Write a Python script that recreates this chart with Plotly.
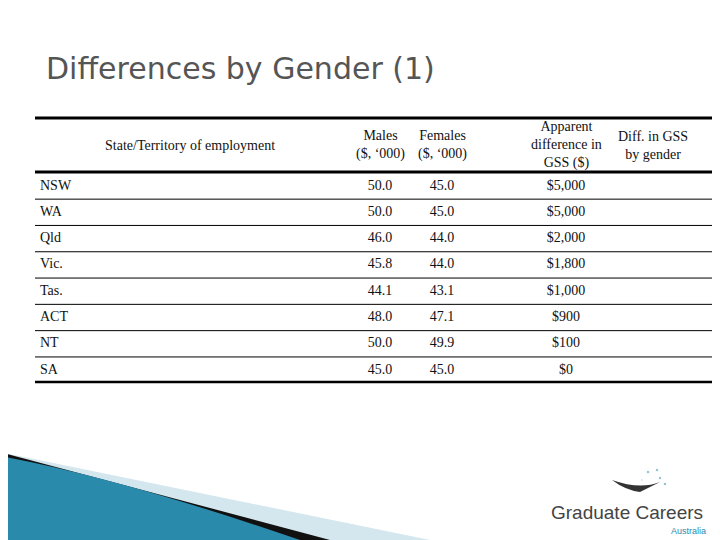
import plotly.graph_objects as go

states = ["NSW", "WA", "Qld", "Vic.", "Tas.", "ACT", "NT", "SA"]
males = [50.0, 50.0, 46.0, 45.8, 44.1, 48.0, 50.0, 45.0]
females = [45.0, 45.0, 44.0, 44.0, 43.1, 47.1, 49.9, 45.0]
diffs = ["$5,000", "$5,000", "$2,000", "$1,800", "$1,000", "$900", "$100", "$0"]
headers = ["State/Territory of employment", "Males<br>($, ‘000)", "Females<br>($, ‘000)",
           "Apparent<br>difference in<br>GSS ($)", "Diff. in GSS<br>by gender"]

serif = "Liberation Serif"
fig = go.Figure()
row0, rowh = 186, 26.3
ys = [row0 + i * rowh for i in range(len(states))]
txt = dict(family=serif, size=14, color="#111")

fig.add_trace(go.Scatter(x=[40] * len(states), y=ys, text=states, mode="text",
                         textposition="middle right", textfont=txt, hoverinfo="skip"))
for xc, vals in [(380, [f"{v:.1f}" for v in males]), (442, [f"{v:.1f}" for v in females]), (566, diffs)]:
    fig.add_trace(go.Scatter(x=[xc] * len(vals), y=ys, text=vals, mode="text",
                             textposition="middle center", textfont=txt, hoverinfo="skip"))

hx = [190, 380, 442, 566, 653]
hy = [145, 145, 145, 145, 145]
for x, y, h in zip(hx, hy, headers):
    fig.add_annotation(x=x, y=y, text=h, showarrow=False, font=txt, xanchor="center", yanchor="middle")

fig.add_annotation(x=44, y=68, text="Differences by Gender (1)", showarrow=False,
                   font=dict(family="DejaVu Sans", size=30, color="#555"), xanchor="left", yanchor="middle")

shapes = []
shapes.append(dict(type="path", path="M0,452 L430,540 L0,540 Z", fillcolor="#d4e6ee", line_width=0, layer="below"))
shapes.append(dict(type="path", path="M0,452 L330,540 L0,540 Z", fillcolor="#111", line_width=0, layer="below"))
shapes.append(dict(type="path", path="M0,456 Q120,478 300,540 L0,540 Z", fillcolor="#2a8aab", line_width=0, layer="below"))
shapes.append(dict(type="line", x0=35, x1=712, y0=118, y1=118, line=dict(color="#000", width=3)))
shapes.append(dict(type="line", x0=35, x1=712, y0=172, y1=172, line=dict(color="#000", width=3)))
for i in range(1, len(states)):
    y = row0 + (i - 0.5) * rowh
    shapes.append(dict(type="line", x0=35, x1=712, y0=y, y1=y, line=dict(color="#000", width=1)))
shapes.append(dict(type="line", x0=35, x1=712, y0=382, y1=382, line=dict(color="#000", width=2.5)))

fig.add_annotation(x=627, y=512, text="Graduate Careers", showarrow=False,
                   font=dict(family="Liberation Sans", size=19, color="#444"), xanchor="center", yanchor="middle")
fig.add_annotation(x=708, y=531, text="Australia", showarrow=False,
                   font=dict(family="Liberation Sans", size=9, color="#2a8aab"), xanchor="right", yanchor="middle")
fig.add_trace(go.Scatter(x=[648, 657, 660, 665, 642], y=[472, 470, 478, 484, 480], mode="markers",
                         marker=dict(size=[3, 3, 3, 3, 2], color="#2a8aab"), hoverinfo="skip"))
shapes.append(dict(type="path", path="M612,480 Q640,490 660,482 L640,492 Q625,490 612,480 Z", fillcolor="#333", line_width=0))

fig.update_layout(width=720, height=540, margin=dict(l=0, r=0, t=0, b=0),
                  plot_bgcolor="white", paper_bgcolor="white", showlegend=False, shapes=shapes,
                  xaxis=dict(range=[8, 728], visible=False, fixedrange=True),
                  yaxis=dict(range=[548, 8], visible=False, fixedrange=True))
fig.write_html("out.html")
